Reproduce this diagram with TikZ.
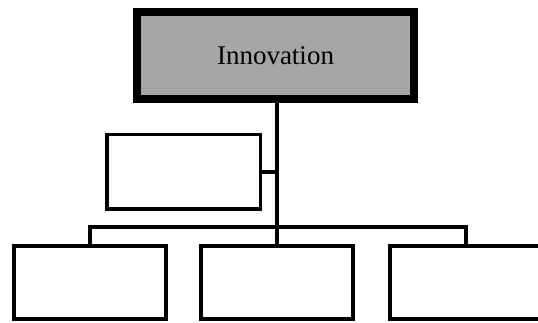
\documentclass[tikz,border=0pt]{standalone}
\usepackage{fontspec}
\setmainfont{Liberation Serif}
\begin{document}
\begin{tikzpicture}[x=1pt,y=-1pt,
  topbox/.style={draw=black,line width=8pt,fill=topgray,minimum width=277pt,minimum height=87pt,inner sep=0pt,font=\fontsize{27}{30}\selectfont},
  orgbox/.style={draw=black,line width=3.5pt,fill=white,inner sep=0pt},
  link/.style={draw=black,line width=4pt}]
\definecolor{topgray}{RGB}{166,166,166}
\useasboundingbox (0,0) rectangle (538,323);
\begin{scope}
\clip (0,0) rectangle (538,323);
\node[topbox] (top) at (275.5,55.5) {Innovation};
\node[orgbox,minimum width=153.5pt,minimum height=74.5pt] (asst) at (183.5,172) {};
\node[orgbox,minimum width=152pt,minimum height=73pt] (b1) at (90,282.5) {};
\node[orgbox,minimum width=152pt,minimum height=73pt] (b2) at (277,282.5) {};
\node[orgbox,minimum width=152pt,minimum height=73pt] (b3) at (466,282.5) {};
\coordinate (bar) at (277,227);
\draw[link] (top.south -| b2.north) -- (b2.north);
\draw[link,line width=3.5pt] (asst.east) -- (asst.east -| b2.north);
\draw[link] (b1.north) |- (bar) -| (b3.north);
\end{scope}
\end{tikzpicture}
\end{document}
